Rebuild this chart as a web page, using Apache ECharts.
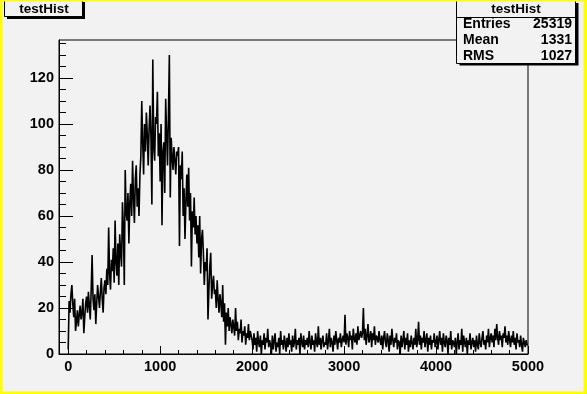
<!DOCTYPE html>
<html>
<head>
<meta charset="utf-8">
<script src="https://cdn.jsdelivr.net/npm/echarts@6/dist/echarts.min.js"></script>
<style>
html,body{margin:0;padding:0;background:#f2f2f2;}
#chart{width:587px;height:394px;}
</style>
</head>
<body>
<div id="chart"></div>
<script>
// ---- data ----
var histTitle = "testHist";
var binWidth = 10;
var xMin = -100, xMax = 5000;
var yMax = 136.5;
var xMajorTicks = [0, 1000, 2000, 3000, 4000, 5000];
var yMajorTicks = [0, 20, 40, 60, 80, 100, 120];
var statsLabels = ["Entries", "Mean", "RMS"];
var statsValues = ["25319", "1331", "1027"];

var counts0to1000 = [
  2, 23, 18, 26, 30, 22, 16, 24, 10, 14, 19, 12, 17, 21, 15, 18, 24, 9, 16, 22,
  25, 18, 27, 21, 15, 28, 43, 24, 19, 26, 13, 22, 30, 25, 20, 27, 33, 24, 18, 29,
  32, 26, 37, 30, 55, 35, 28, 41, 36, 46, 31, 58, 40, 34, 48, 30, 52, 44, 38, 66,
  55, 30, 80, 62, 58, 70, 48, 66, 74, 60, 84, 68, 57, 76, 82, 64, 72, 60, 78, 86,
  110, 92, 78, 100, 88, 105, 96, 82, 98, 108, 94, 65, 128, 90, 84, 103, 100, 114, 86, 96
];
var counts1000to2000 = [
  75, 100, 56, 88, 92, 70, 111, 96, 82, 104, 130, 68, 94, 86, 80, 90, 84, 78, 88, 86,
  90, 47, 82, 76, 88, 60, 72, 50, 66, 78, 64, 81, 58, 70, 38, 62, 55, 68, 52, 60,
  48, 56, 42, 60, 35, 50, 54, 44, 30, 40, 36, 46, 15, 28, 38, 44, 24, 30, 34, 26,
  28, 20, 32, 24, 18, 26, 22, 16, 30, 14, 22, 4, 18, 12, 20, 10, 16, 13, 9, 15,
  12, 8, 20, 10, 14, 6, 11, 9, 15, 5, 10, 8, 12, 4, 9, 7, 13, 6, 10, 8
];
var counts2000to3500 = [
  6, 2, 9, 4, 7, 1, 10, 5, 3, 8, 0, 6, 4, 9, 2, 7, 5, 11, 3, 6,
  4, 0, 8, 2, 6, 9, 1, 5, 3, 7, 0, 10, 4, 6, 2, 8, 5, 1, 7, 3,
  9, 4, 6, 1, 8, 3, 5, 11, 2, 6, 4, 7, 0, 9, 5, 3, 8, 2, 6, 4,
  7, 3, 10, 5, 2, 8, 4, 6, 1, 9, 5, 3, 12, 4, 7, 2, 6, 8, 3, 5,
  4, 9, 2, 6, 11, 3, 7, 5, 1, 8, 4, 10, 6, 2, 7, 5, 9, 3, 6, 8,
  5, 17, 4, 9, 7, 3, 10, 6, 8, 2, 11, 7, 5, 9, 4, 12, 6, 8, 10, 7,
  9, 20, 6, 11, 4, 8, 13, 5, 7, 10, 3, 9, 6, 12, 4, 8, 7, 5, 10, 6,
  4, 8, 2, 7, 10, 5, 3, 9, 6, 1
];
var counts3500to5000 = [
  8, 4, 11, 6, 3, 7, 5, 9, 2, 6,
  5, 0, 8, 3, 6, 10, 2, 7, 4, 9, 1, 6, 3, 8, 5, 2, 7, 4, 11, 3,
  6, 14, 4, 8, 2, 7, 5, 10, 3, 6, 9, 1, 7, 4, 8, 2, 6, 5, 9, 3,
  5, 8, 2, 6, 10, 4, 7, 1, 9, 5, 3, 8, 6, 0, 7, 4, 10, 2, 6, 5,
  3, 7, 0, 5, 9, 2, 6, 4, 11, 1, 8, 5, 3, 7, 0, 6, 4, 9, 2, 5,
  7, 3, 6, 1, 8, 4, 2, 9, 5, 3, 7, 10, 4, 6, 2, 8, 5, 11, 3, 7,
  9, 5, 8, 3, 11, 6, 13, 7, 4, 10, 6, 8, 3, 9, 7, 12, 5, 8, 4, 10,
  6, 3, 8, 5, 10, 4, 7, 2, 9, 5, 6, 3, 8, 4, 1, 7, 5, 3, 6, 4
];

// ---- build ----
var counts = counts0to1000.concat(counts1000to2000, counts2000to3500, counts3500to5000);
var stepData = counts.map(function (v, i) { return [i * binWidth, v]; });
stepData.push([counts.length * binWidth, counts[counts.length - 1]]);

var xMinorTicks = [];
for (var t = 0; t <= xMax; t += 200) xMinorTicks.push(t);
var yMinorTicks = [];
for (var u = 0; u <= yMax; u += 5) yMinorTicks.push(u);

var FONT = "'Liberation Sans', Arial, Helvetica, sans-serif";
var chart = echarts.init(document.getElementById('chart'), null, {renderer: 'canvas'});

var statsGraphics = [];
statsLabels.forEach(function (lab, i) {
  statsGraphics.push({type: 'text', x: 463, y: 24 + i * 16, z: 102,
    style: {text: lab, font: 'bold 14px ' + FONT, fill: '#000', textVerticalAlign: 'middle', textAlign: 'left'}});
  statsGraphics.push({type: 'text', x: 572, y: 24 + i * 16, z: 102,
    style: {text: statsValues[i], font: 'bold 14px ' + FONT, fill: '#000', textVerticalAlign: 'middle', textAlign: 'right'}});
});

chart.setOption({
  animation: false,
  backgroundColor: '#f2f2f2',
  grid: {left: 59, right: 59, top: 40, bottom: 40, show: true, borderColor: '#000', borderWidth: 1, backgroundColor: 'transparent'},
  xAxis: [{
    type: 'value', min: xMin, max: xMax, position: 'bottom',
    axisLine: {show: true, onZero: false, lineStyle: {color: '#000', width: 1}},
    axisTick: {show: true, inside: true, length: 8, customValues: xMajorTicks, lineStyle: {color: '#000'}},
    axisLabel: {show: true, customValues: xMajorTicks, margin: 5, color: '#000', fontWeight: 'bold', fontSize: 14.5, fontFamily: FONT,
      formatter: function (v) { return String(v); }},
    splitLine: {show: false}
  }, {
    type: 'value', min: xMin, max: xMax, position: 'bottom',
    axisLine: {show: false, onZero: false},
    axisTick: {show: true, inside: true, length: 4, customValues: xMinorTicks, lineStyle: {color: '#000'}},
    axisLabel: {show: false},
    splitLine: {show: false}
  }],
  yAxis: [{
    type: 'value', min: 0, max: yMax, position: 'left',
    axisLine: {show: true, onZero: false, lineStyle: {color: '#000', width: 1}},
    axisTick: {show: true, inside: true, length: 14, customValues: yMajorTicks, lineStyle: {color: '#000'}},
    axisLabel: {show: true, customValues: yMajorTicks, margin: 5, color: '#000', fontWeight: 'bold', fontSize: 14.5, fontFamily: FONT,
      formatter: function (v) { return String(v); }},
    splitLine: {show: false}
  }, {
    type: 'value', min: 0, max: yMax, position: 'left',
    axisLine: {show: false, onZero: false},
    axisTick: {show: true, inside: true, length: 7, customValues: yMinorTicks, lineStyle: {color: '#000'}},
    axisLabel: {show: false},
    splitLine: {show: false}
  }],
  series: [{
    type: 'line', name: histTitle, xAxisIndex: 0, yAxisIndex: 0,
    data: stepData, step: 'end', showSymbol: false, symbol: 'none',
    lineStyle: {color: '#000', width: 1.6}, clip: true
  }],
  graphic: [
    // canvas border (yellow)
    {type: 'rect', shape: {x: 0, y: 0, width: 2.5, height: 394}, style: {fill: '#ffff00'}, z: 200},
    {type: 'rect', shape: {x: 0, y: 0, width: 587, height: 1.5}, style: {fill: '#ffff00'}, z: 200},
    {type: 'rect', shape: {x: 583.5, y: 0, width: 4, height: 394}, style: {fill: '#ffff00'}, z: 200},
    {type: 'rect', shape: {x: 0, y: 391.5, width: 587, height: 3}, style: {fill: '#ffff00'}, z: 200},
    // title box
    {type: 'rect', shape: {x: 7, y: 2, width: 78, height: 17}, style: {fill: '#000'}, z: 100},
    {type: 'rect', shape: {x: 4.5, y: -1, width: 78, height: 17.5}, style: {fill: '#f2f2f2', stroke: '#000', lineWidth: 1}, z: 101},
    {type: 'text', x: 44, y: 9, z: 102, style: {text: histTitle, font: 'bold 13.5px ' + FONT, fill: '#000', textAlign: 'center', textVerticalAlign: 'middle'}},
    // stats box
    {type: 'rect', shape: {x: 459.5, y: 3, width: 119, height: 62.5}, style: {fill: '#000'}, z: 100},
    {type: 'rect', shape: {x: 456.5, y: 0.5, width: 119, height: 63}, style: {fill: '#f2f2f2', stroke: '#000', lineWidth: 1}, z: 101},
    {type: 'line', shape: {x1: 456.5, y1: 17.5, x2: 575.5, y2: 17.5}, style: {stroke: '#000', lineWidth: 1}, z: 102},
    {type: 'text', x: 516, y: 9, z: 102, style: {text: histTitle, font: 'bold 13.5px ' + FONT, fill: '#000', textAlign: 'center', textVerticalAlign: 'middle'}}
  ].concat(statsGraphics)
});
</script>
</body>
</html>
